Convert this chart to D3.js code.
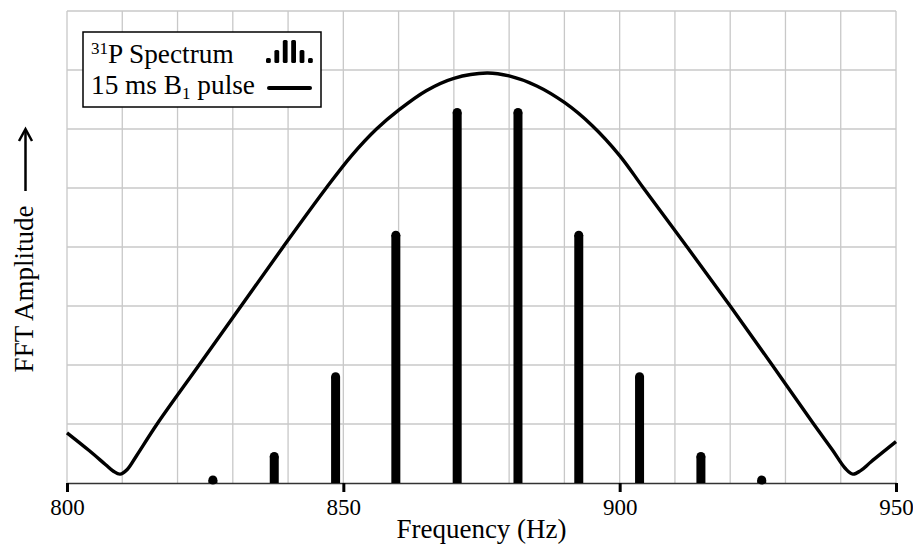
<!DOCTYPE html>
<html><head><meta charset="utf-8">
<script src="https://cdn.jsdelivr.net/npm/d3@7"></script>
<style>body{margin:0;background:#fff}svg{display:block}</style>
</head><body><svg id="c" width="913" height="544"></svg>
<script>
// ---- data ----
const freqTicks = [800, 850, 900, 950];
const peakFreq = [826.4, 837.5, 848.6, 859.5, 870.6, 881.6, 892.6, 903.6, 914.7, 925.7];
const peakAmp  = [0.05, 0.45, 1.8, 4.2, 6.28, 6.28, 4.2, 1.8, 0.45, 0.05];
const pulseFreq = [800, 804, 807, 808.4, 809.6, 810.9, 812.5, 816.3, 823.9, 831.5, 839.1, 846.9, 851.5, 856, 860, 865, 870, 876, 880, 885, 890, 895, 900, 904.3, 912.2, 920, 927.6, 935.1, 938.5, 940.8, 942.2, 943.6, 945.5, 950];
const pulseAmp  = [0.85, 0.55, 0.31, 0.2, 0.15, 0.23, 0.45, 1.0, 2.0, 3.0, 4.0, 5.0, 5.55, 6.0, 6.32, 6.65, 6.86, 6.95, 6.9, 6.73, 6.45, 6.06, 5.55, 5.0, 4.0, 3.0, 2.0, 1.0, 0.56, 0.25, 0.15, 0.21, 0.36, 0.7];
const legendLabels = ["P Spectrum", "15 ms B", " pulse"];

// ---- chart ----
const svg = d3.select("#c");
const m = {left: 67, right: 17, top: 11, bottom: 61};
const W = 913, H = 544;
const x = d3.scaleLinear().domain([800, 950]).range([m.left, W - m.right]);
const y = d3.scaleLinear().domain([0, 8]).range([H - m.bottom, m.top]);
const serif = "'Liberation Serif','Times New Roman',serif";

// grid
const g = svg.append("g");
g.selectAll("line.v").data(d3.range(800, 951, 10)).join("line")
  .attr("x1", d => x(d)).attr("x2", d => x(d)).attr("y1", y(0)).attr("y2", y(8))
  .attr("stroke", "#c8c8c8").attr("stroke-width", 1.3);
g.selectAll("line.h").data(d3.range(1, 9)).join("line")
  .attr("y1", d => y(d)).attr("y2", d => y(d)).attr("x1", x(800)).attr("x2", x(950))
  .attr("stroke", "#c8c8c8").attr("stroke-width", 1.3);

// x axis
const ax = svg.append("g").attr("transform", `translate(0,${y(0)})`)
  .call(d3.axisBottom(x).tickValues(freqTicks).tickSize(9).tickSizeOuter(0).tickPadding(7).tickFormat(d3.format("d")));
ax.select(".domain").attr("stroke", "#333").attr("stroke-width", 1.6);
ax.selectAll(".tick line").attr("stroke", "#000").attr("stroke-width", 3);
ax.selectAll(".tick text").attr("font-family", serif).attr("font-size", 23).attr("fill", "#000");

// pulse curve
const line = d3.line().x((d, i) => x(pulseFreq[i])).y(d => y(d)).curve(d3.curveCatmullRom.alpha(0.5));
svg.append("path").attr("d", line(pulseAmp)).attr("fill", "none")
  .attr("stroke", "#000").attr("stroke-width", 3.4).attr("stroke-linejoin", "round");

// spectrum bars
const bw = 9;
const bars = svg.append("g");
bars.selectAll("rect").data(peakAmp).join("rect")
  .attr("x", (d, i) => x(peakFreq[i]) - bw / 2).attr("width", bw)
  .attr("y", d => y(d)).attr("height", d => y(0) - y(d)).attr("fill", "#000");
bars.selectAll("circle").data(peakAmp).join("circle")
  .attr("cx", (d, i) => x(peakFreq[i])).attr("cy", d => y(d)).attr("r", bw / 2).attr("fill", "#000");

// axis titles
svg.append("text").attr("x", (x(800) + x(950)) / 2).attr("y", 538).attr("text-anchor", "middle")
  .attr("font-family", serif).attr("font-size", 27).text("Frequency (Hz)");
svg.append("text").attr("transform", "translate(33,289) rotate(-90)").attr("text-anchor", "middle")
  .attr("font-family", serif).attr("font-size", 27).text("FFT Amplitude");
svg.append("line").attr("x1", 25.5).attr("x2", 25.5).attr("y1", 191).attr("y2", 130)
  .attr("stroke", "#000").attr("stroke-width", 2.5);
svg.append("path").attr("d", "M19,141 L25.5,129 L32,141").attr("fill", "none")
  .attr("stroke", "#000").attr("stroke-width", 2.5).attr("stroke-linejoin", "miter");

// legend
const lg = svg.append("g");
lg.append("rect").attr("x", 83).attr("y", 32).attr("width", 238).attr("height", 75)
  .attr("fill", "#fff").attr("stroke", "#000").attr("stroke-width", 1.5);
const t1 = lg.append("text").attr("x", 91).attr("y", 63).attr("font-family", serif).attr("font-size", 27.3);
t1.append("tspan").attr("font-size", 17).attr("dy", -9).text("31");
t1.append("tspan").attr("dy", 9).text(legendLabels[0]);
const t2 = lg.append("text").attr("x", 91).attr("y", 94).attr("font-family", serif).attr("font-size", 27.3);
t2.append("tspan").text(legendLabels[1]);
t2.append("tspan").attr("font-size", 17).attr("dy", 5).text("1");
t2.append("tspan").attr("dy", -5).text(legendLabels[2]);
// legend spectrum icon
const iconH = [5, 13, 23, 23, 13, 5];
lg.selectAll("rect.ic").data(iconH).join("rect").attr("class", "ic")
  .attr("x", (d, i) => 266 + i * 8.4).attr("width", 4.8)
  .attr("y", d => 63 - d).attr("height", d => d).attr("rx", 1.5).attr("fill", "#000");
lg.append("line").attr("x1", 269).attr("x2", 310).attr("y1", 88).attr("y2", 88)
  .attr("stroke", "#000").attr("stroke-width", 4).attr("stroke-linecap", "round");
</script></body></html>
